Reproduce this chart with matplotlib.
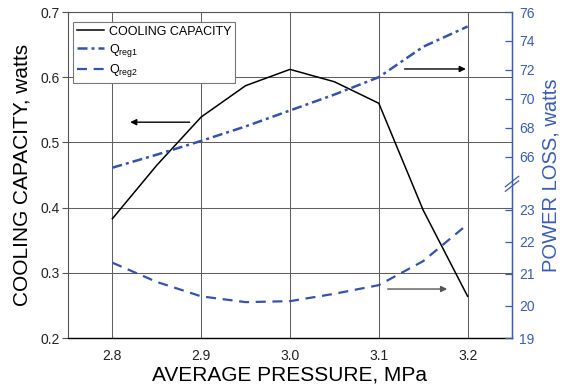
import numpy as np
import matplotlib
matplotlib.use("Agg")
import matplotlib.pyplot as plt

plt.rcParams['font.family'] = ['Liberation Sans', 'DejaVu Sans']
plt.rcParams['mathtext.fontset'] = 'custom'
plt.rcParams['mathtext.rm'] = 'Liberation Sans'
plt.rcParams['mathtext.it'] = 'Liberation Sans:italic'

# ---- data ----
pressure = [2.8, 2.85, 2.9, 2.95, 3.0, 3.05, 3.1, 3.15, 3.2]
cooling = [0.383, 0.465, 0.539, 0.587, 0.612, 0.593, 0.560, 0.396, 0.264]
q_reg1 = [65.25, 66.15, 67.1, 68.1, 69.2, 70.3, 71.5, 73.6, 75.0]
q_reg2 = [21.35, 20.75, 20.3, 20.12, 20.15, 20.38, 20.65, 21.4, 22.55]

x_ticks = [2.8, 2.9, 3.0, 3.1, 3.2]
x_ticklabels = ['2.8', '2.9', '3.0', '3.1', '3.2']
left_ticks = [0.2, 0.3, 0.4, 0.5, 0.6, 0.7]
right_ticks = [19, 20, 21, 22, 23, 66, 68, 70, 72, 74, 76]

# broken right scale: value breakpoints -> relative position
brk_vals = [19.0, 23.9, 64.4, 76.0]
brk_pos = [0.0, 0.4816, 0.4847, 1.0]

# arrows: (x_start, y_start, x_end, y_end) in left-axis data coords
arrows = [(2.887, 0.531, 2.820, 0.531, 'black'),
          (3.129, 0.6126, 3.198, 0.6126, 'black'),
          (3.110, 0.2751, 3.177, 0.2751, '#555555')]

blue = '#3553ad'
axblue = '#3a5cb8'

fig = plt.figure(figsize=(5.62, 3.89), dpi=100)
ax = fig.add_axes([68/562, 1-338/389, (512-68)/562, (338-12)/389])

ax.set_xlim(2.75, 3.25)
ax.set_ylim(0.2, 0.7)
ax.set_xticks(x_ticks)
ax.set_xticklabels(x_ticklabels)
ax.set_yticks(left_ticks)
ax.set_yticklabels(['%.1f' % t for t in left_ticks])
ax.grid(True, color='#606060', lw=0.75)
ax.tick_params(axis='x', length=0, pad=8, labelsize=10, labelcolor='#222222')
ax.tick_params(axis='y', direction='out', length=4, width=0.8, color='#555555',
               labelsize=10, labelcolor='#222222', pad=2)
for s in ['left', 'top']:
    ax.spines[s].set_color('#555555')
ax.spines['bottom'].set_color('black')
ax.spines['bottom'].set_linewidth(1.0)

h1, = ax.plot(pressure, cooling, color='black', lw=1.1, label='COOLING CAPACITY', zorder=5)

ax2 = ax.twinx()
def fwd(v):
    return np.interp(np.asarray(v, dtype=float), brk_vals, brk_pos)
def inv(p):
    return np.interp(np.asarray(p, dtype=float), brk_pos, brk_vals)
ax2.set_yscale('function', functions=(fwd, inv))
ax2.set_ylim(19, 76)
ax2.set_yticks(right_ticks)
ax2.set_yticklabels([str(t) for t in right_ticks])
ax2.yaxis.set_minor_locator(matplotlib.ticker.NullLocator())
ax2.tick_params(axis='y', direction='in', length=5, width=0.9, color=axblue,
                labelsize=10, labelcolor=axblue, pad=5)
ax2.spines['right'].set_color(axblue)
ax2.spines['right'].set_linewidth(1.0)
for s in ['left', 'top', 'bottom']:
    ax2.spines[s].set_visible(False)

h2, = ax2.plot(pressure, q_reg1, color=blue, lw=1.8, dashes=(4, 1.6, 1.2, 1.6),
               label=r'Q$_{\mathrm{reg1}}$', zorder=5)
h3, = ax2.plot(pressure, q_reg2, color=blue, lw=1.6, dashes=(4.5, 3),
               label=r'Q$_{\mathrm{reg2}}$', zorder=5)

# break marks on right spine
for dy in (0.0, 0.014):
    ax2.plot([0.985, 1.015], [0.45 + dy, 0.482 + dy], transform=ax2.transAxes,
             color=axblue, lw=0.9, clip_on=False)

for xs, ys, xe, ye, c in arrows:
    ax.annotate('', xy=(xe, ye), xytext=(xs, ys),
                arrowprops=dict(arrowstyle='-|>', color=c, lw=1.0,
                                mutation_scale=9, shrinkA=0, shrinkB=0))

leg = ax.legend(handles=[h1, h2, h3], loc='upper left', bbox_to_anchor=(0.011, 0.969),
                borderaxespad=0, fancybox=False, edgecolor='#777777', framealpha=1,
                fontsize=9, handlelength=2.2, labelspacing=0.3, borderpad=0.3,
                handletextpad=0.4)
leg.get_frame().set_linewidth(0.8)
leg.set_zorder(10)

ax.set_xlabel('AVERAGE PRESSURE, MPa', fontsize=15, labelpad=2)
ax.set_ylabel('COOLING CAPACITY, watts', fontsize=15, labelpad=6)
ax2.set_ylabel('POWER LOSS, watts', fontsize=14.5, color=axblue, labelpad=5)

fig.savefig('out.png', dpi=100)
